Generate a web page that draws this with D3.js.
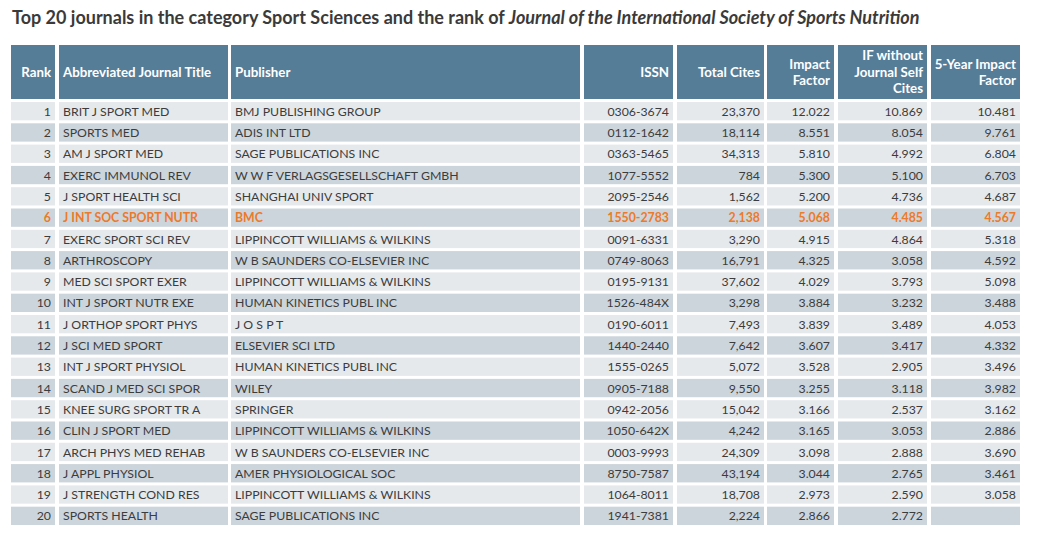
<!DOCTYPE html>
<html><head><meta charset="utf-8">
<script src="https://cdn.jsdelivr.net/npm/d3@7"></script>
<style>body{margin:0;background:#fff;} svg{display:block;}</style>
</head><body>
<script>
const ranks = d3.range(1, 21);
const titles = ["BRIT J SPORT MED","SPORTS MED","AM J SPORT MED","EXERC IMMUNOL REV","J SPORT HEALTH SCI","J INT SOC SPORT NUTR","EXERC SPORT SCI REV","ARTHROSCOPY","MED SCI SPORT EXER","INT J SPORT NUTR EXE","J ORTHOP SPORT PHYS","J SCI MED SPORT","INT J SPORT PHYSIOL","SCAND J MED SCI SPOR","KNEE SURG SPORT TR A","CLIN J SPORT MED","ARCH PHYS MED REHAB","J APPL PHYSIOL","J STRENGTH COND RES","SPORTS HEALTH"];
const publishers = ["BMJ PUBLISHING GROUP","ADIS INT LTD","SAGE PUBLICATIONS INC","W W F VERLAGSGESELLSCHAFT GMBH","SHANGHAI UNIV SPORT","BMC","LIPPINCOTT WILLIAMS & WILKINS","W B SAUNDERS CO-ELSEVIER INC","LIPPINCOTT WILLIAMS & WILKINS","HUMAN KINETICS PUBL INC","J O S P T","ELSEVIER SCI LTD","HUMAN KINETICS PUBL INC","WILEY","SPRINGER","LIPPINCOTT WILLIAMS & WILKINS","W B SAUNDERS CO-ELSEVIER INC","AMER PHYSIOLOGICAL SOC","LIPPINCOTT WILLIAMS & WILKINS","SAGE PUBLICATIONS INC"];
const issns = ["0306-3674","0112-1642","0363-5465","1077-5552","2095-2546","1550-2783","0091-6331","0749-8063","0195-9131","1526-484X","0190-6011","1440-2440","1555-0265","0905-7188","0942-2056","1050-642X","0003-9993","8750-7587","1064-8011","1941-7381"];
const totalCites = [23370,18114,34313,784,1562,2138,3290,16791,37602,3298,7493,7642,5072,9550,15042,4242,24309,43194,18708,2224];
const impactFactors = [12.022,8.551,5.810,5.300,5.200,5.068,4.915,4.325,4.029,3.884,3.839,3.607,3.528,3.255,3.166,3.165,3.098,3.044,2.973,2.866];
const ifWithoutSelfCites = [10.869,8.054,4.992,5.100,4.736,4.485,4.864,3.058,3.793,3.232,3.489,3.417,2.905,3.118,2.537,3.053,2.888,2.765,2.590,2.772];
const fiveYearIF = [10.481,9.761,6.804,6.703,4.687,4.567,5.318,4.592,5.098,3.488,4.053,4.332,3.496,3.982,3.162,2.886,3.690,3.461,3.058,null];
const highlightRank = 6;
const headers = [["Rank"],["Abbreviated Journal Title"],["Publisher"],["ISSN"],["Total Cites"],["Impact","Factor"],["IF without","Journal Self","Cites"],["5-Year Impact","Factor"]];

const W = 1048, H = 537;
const svg = d3.select("body").append("svg").attr("width", W).attr("height", H);
const font = "Lato, 'Open Sans', sans-serif";

svg.append("text").attr("x", 12).attr("y", 24)
  .attr("font-family", font).attr("font-size", 18).attr("font-weight", "bold").attr("fill", "#3a3a3a")
  .call(t => {
    t.append("tspan").text("Top 20 journals in the category Sport Sciences and the rank of ");
    t.append("tspan").attr("font-style", "italic").text("Journal of the International Society of Sports Nutrition");
  });

// column edges (x0, x1) and alignment
const cols = [
  {x0: 11, x1: 55, align: "end"},
  {x0: 59, x1: 228, align: "start"},
  {x0: 231, x1: 580, align: "start"},
  {x0: 584, x1: 673, align: "end"},
  {x0: 677, x1: 764, align: "end"},
  {x0: 767, x1: 834, align: "end"},
  {x0: 838, x1: 927, align: "end"},
  {x0: 931, x1: 1020, align: "end"}
];
const fmtInt = d3.format(",");
const fmt3 = d3.format(".3f");
const rows = ranks.map((r, i) => ({
  rank: r,
  cells: [String(r), titles[i], publishers[i], issns[i], fmtInt(totalCites[i]), fmt3(impactFactors[i]), fmt3(ifWithoutSelfCites[i]), fiveYearIF[i] == null ? "" : fmt3(fiveYearIF[i])]
}));

const y = d3.scaleBand().domain(ranks).range([102, 525]).paddingInner(0.14).paddingOuter(0);
const tx = c => c.align === "end" ? c.x1 - 4 : c.x0 + 4;

// header
const hTop = 45, hBot = 99;
const hg = svg.append("g");
cols.forEach((c, j) => {
  hg.append("rect").attr("x", c.x0).attr("y", hTop).attr("width", c.x1 - c.x0).attr("height", hBot - hTop).attr("fill", "#557d98");
  const lines = headers[j];
  const lh = 16.5, mid = (hTop + hBot) / 2;
  lines.forEach((ln, k) => {
    hg.append("text").attr("x", tx(c)).attr("y", mid + (k - (lines.length - 1) / 2) * lh + 4.8)
      .attr("text-anchor", c.align).attr("font-family", font).attr("font-size", 13.3).attr("font-weight", "bold")
      .attr("fill", "#ffffff").text(ln);
  });
});

// body
const rg = svg.append("g").selectAll("g").data(rows).join("g")
  .attr("transform", d => `translate(0,${y(d.rank)})`);
cols.forEach((c, j) => {
  rg.append("rect").attr("x", c.x0).attr("y", 0).attr("width", c.x1 - c.x0).attr("height", y.bandwidth())
    .attr("fill", d => d.rank % 2 === 1 ? "#e6e9ec" : "#ccd5dc");
  rg.append("text").attr("x", tx(c)).attr("y", y.bandwidth() / 2 + 4.6)
    .attr("text-anchor", c.align).attr("font-family", font).attr("font-size", 12.3)
    .attr("font-weight", d => d.rank === highlightRank ? "bold" : "normal")
    .attr("fill", d => d.rank === highlightRank ? "#ec7a2a" : "#3c3c3c")
    .text(d => d.cells[j]);
});
</script>
</body></html>
